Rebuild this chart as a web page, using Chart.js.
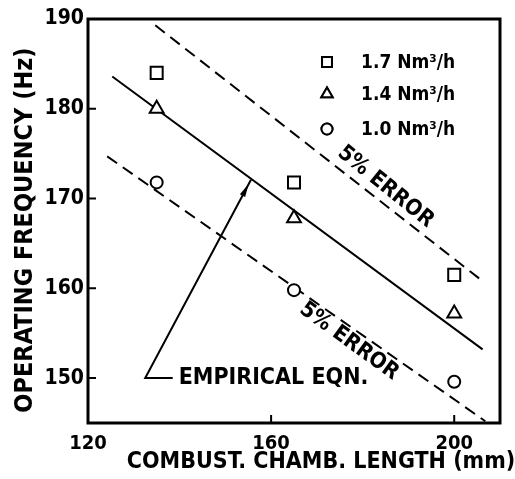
<!DOCTYPE html>
<html>
<head>
<meta charset="utf-8">
<script src="https://cdn.jsdelivr.net/npm/chart.js@4.4.0/dist/chart.umd.min.js"></script>
<style>
  html, body { margin: 0; padding: 0; background: #fff; }
  #wrap { width: 515px; height: 479px; }
</style>
</head>
<body>
<div id="wrap"><canvas id="chart" width="515" height="479"></canvas></div>
<script>
// measured data (combustion chamber length in mm vs. operating frequency in Hz)
const lengthsMm = [135, 165, 200];
const freq17 = [184, 171.8, 161.5];
const freq14 = [180, 167.8, 157.2];
const freq10 = [171.8, 159.8, 149.6];
const seriesLabels = ["1.7 Nm³/h", "1.4 Nm³/h", "1.0 Nm³/h"];

// fitted line and the +/-5% error band
const empiricalX = [125.3, 206.2];
const empiricalY = [183.6, 153.2];
const upperX = [134.7, 206.2];
const upperY = [189.3, 160.8];
const lowerX = [124.2, 206.8];
const lowerY = [174.7, 145.2];

// leader line for the "EMPIRICAL EQN." label
const leaderX = [138.5, 132.5, 155.6];
const leaderY = [150, 150, 172.1];

const xTicks = [120, 160, 200];
const yTicks = [150, 160, 170, 180, 190];

const FONT = "'DejaVu Sans Condensed', 'Liberation Sans Narrow', 'DejaVu Sans', sans-serif";

const pts = (xs, ys) => xs.map((x, i) => ({ x, y: ys[i] }));

const markerStyle = [
    { style: "rect", r: 8.5, legendR: 7 },
    { style: "triangle", r: 8, legendR: 6.5 },
    { style: "circle", r: 6, legendR: 5.5 },
];

// annotation texts, placed in data units
const notes = [
    { text: "EMPIRICAL EQN.", x: 139.8, y: 150, angle: 0, align: "left", size: 23 },
    { text: "5% ERROR", x: 185, y: 171.3, angle: 39, align: "center", size: 22 },
    { text: "5% ERROR", x: 177, y: 154.1, angle: 36, align: "center", size: 22 },
];

const framePlugin = {
    id: "frame",
    afterDatasetsDraw(chart) {
        const { ctx, chartArea: a, scales } = chart;
        const xs = scales.x, ys = scales.y;
        ctx.save();
        ctx.strokeStyle = "#000";
        ctx.fillStyle = "#000";

        // box around the plot
        ctx.lineWidth = 3;
        ctx.strokeRect(a.left, a.top, a.right - a.left, a.bottom - a.top);

        // inward tick marks
        ctx.lineWidth = 2;
        ctx.beginPath();
        yTicks.forEach((v) => {
            const py = ys.getPixelForValue(v);
            ctx.moveTo(a.left, py);
            ctx.lineTo(a.left + 8, py);
        });
        xTicks.forEach((v) => {
            const px = xs.getPixelForValue(v);
            ctx.moveTo(px, a.bottom);
            ctx.lineTo(px, a.bottom - 8);
        });
        ctx.stroke();

        // small arrow head at the end of the leader line
        const n = leaderX.length;
        const tx = xs.getPixelForValue(leaderX[n - 1]), ty = ys.getPixelForValue(leaderY[n - 1]);
        const fx = xs.getPixelForValue(leaderX[n - 2]), fy = ys.getPixelForValue(leaderY[n - 2]);
        const ang = Math.atan2(ty - fy, tx - fx);
        const hx = tx - 8 * Math.cos(ang), hy = ty - 8 * Math.sin(ang);
        ctx.beginPath();
        ctx.moveTo(hx + 3 * Math.cos(ang), hy + 3 * Math.sin(ang));
        ctx.lineTo(hx - 10 * Math.cos(ang) + 3 * Math.sin(ang), hy - 10 * Math.sin(ang) - 3 * Math.cos(ang));
        ctx.lineTo(hx - 10 * Math.cos(ang) - 3 * Math.sin(ang), hy - 10 * Math.sin(ang) + 3 * Math.cos(ang));
        ctx.closePath();
        ctx.fill();

        // annotations
        ctx.textBaseline = "middle";
        notes.forEach((nt) => {
            ctx.save();
            ctx.font = "bold " + nt.size + "px " + FONT;
            ctx.translate(xs.getPixelForValue(nt.x), ys.getPixelForValue(nt.y));
            ctx.rotate((nt.angle * Math.PI) / 180);
            ctx.textAlign = nt.align;
            ctx.fillText(nt.text, 0, 0);
            ctx.restore();
        });

        // legend in the upper right corner
        ctx.textAlign = "left";
        ctx.font = "bold 19px " + FONT;
        const rowY = [62, 94, 129];
        chart.data.datasets.slice(0, 3).forEach((ds, i) => {
            const m = markerStyle[i];
            ctx.lineWidth = 2;
            ctx.fillStyle = "#fff";
            Chart.helpers.drawPoint(ctx, { pointStyle: m.style, radius: m.legendR, borderWidth: 2 }, 327, rowY[i]);
            ctx.fill();
            ctx.stroke();
            ctx.fillStyle = "#000";
            ctx.fillText(ds.label, 361, rowY[i] + 1);
        });

        // axis titles
        ctx.font = "bold 23px " + FONT;
        ctx.textAlign = "center";
        ctx.fillText("COMBUST. CHAMB. LENGTH (mm)", 321, 462);

        ctx.save();
        ctx.font = "bold 25px " + FONT;
        ctx.translate(25, 230);
        ctx.rotate(-Math.PI / 2);
        ctx.fillText("OPERATING FREQUENCY (Hz)", 0, 0);
        ctx.restore();

        ctx.restore();
    },
};

const scatterSet = (label, ys, i) => ({
    type: "scatter",
    label,
    data: pts(lengthsMm, ys),
    pointStyle: markerStyle[i].style,
    pointRadius: markerStyle[i].r,
    pointHoverRadius: markerStyle[i].r,
    pointBackgroundColor: "#fff",
    pointBorderColor: "#000",
    pointBorderWidth: 2,
    showLine: false,
});

const lineSet = (label, data, dash) => ({
    type: "line",
    label,
    data,
    borderColor: "#000",
    borderWidth: 2,
    borderDash: dash,
    pointRadius: 0,
    fill: false,
    tension: 0,
});

new Chart(document.getElementById("chart"), {
    type: "scatter",
    data: {
        datasets: [
            scatterSet(seriesLabels[0], freq17, 0),
            scatterSet(seriesLabels[1], freq14, 1),
            scatterSet(seriesLabels[2], freq10, 2),
            lineSet("empirical", pts(empiricalX, empiricalY), []),
            lineSet("upper 5%", pts(upperX, upperY), [12, 7]),
            lineSet("lower 5%", pts(lowerX, lowerY), [12, 7]),
            lineSet("leader", pts(leaderX, leaderY), []),
        ],
    },
    options: {
        responsive: false,
        animation: false,
        layout: { padding: { top: 19, right: 15, left: 0, bottom: 0 } },
        plugins: { legend: { display: false }, tooltip: { enabled: false } },
        scales: {
            x: {
                type: "linear",
                min: 120,
                max: 210,
                afterBuildTicks: (s) => { s.ticks = xTicks.map((v) => ({ value: v })); },
                afterFit: (s) => { s.height = 56; },
                grid: { display: false, drawTicks: false },
                border: { display: false },
                ticks: { color: "#000", padding: 9, font: { family: FONT, size: 20, weight: "bold" } },
            },
            y: {
                type: "linear",
                min: 145,
                max: 190,
                afterBuildTicks: (s) => { s.ticks = yTicks.map((v) => ({ value: v })); },
                afterFit: (s) => { s.width = 88; },
                grid: { display: false, drawTicks: false },
                border: { display: false },
                ticks: { color: "#000", padding: 4, font: { family: FONT, size: 21, weight: "bold" } },
            },
        },
    },
    plugins: [framePlugin],
});
</script>
</body>
</html>
